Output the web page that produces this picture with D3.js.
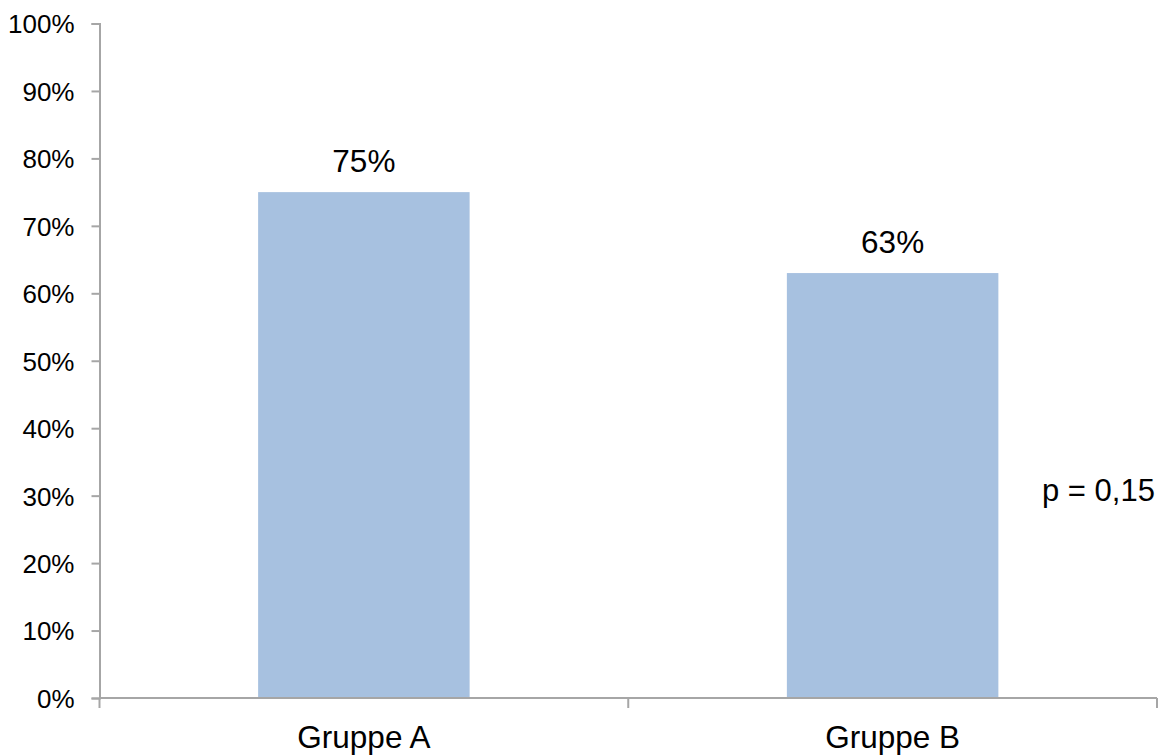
<!DOCTYPE html>
<html>
<head>
<meta charset="utf-8">
<script src="https://cdn.jsdelivr.net/npm/d3@7"></script>
<style>
  body { margin: 0; background: #fff; }
  svg text { font-family: "Liberation Sans", Arial, sans-serif; fill: #000; }
</style>
</head>
<body>
<svg id="chart" width="1168" height="755"></svg>
<script>
// Share of each group, in percent
const categories = ["Gruppe A", "Gruppe B"];
const values = [75, 63];
const yTicks = [0, 10, 20, 30, 40, 50, 60, 70, 80, 90, 100];
const note = "p = 0,15";

const svg = d3.select("#chart");
const plotLeft = 99.5, plotRight = 1157, plotTop = 23.5, plotBottom = 698;
const axisColor = "#a6a6a6";

const x = d3.scaleBand().domain(categories).range([plotLeft, plotRight])
  .paddingInner(0.6).paddingOuter(0.3);
const y = d3.scaleLinear().domain([0, 100]).range([plotBottom, plotTop]);

// bars
svg.selectAll("rect.bar").data(values).enter().append("rect")
  .attr("class", "bar")
  .attr("x", (d, i) => x(categories[i]))
  .attr("width", x.bandwidth())
  .attr("y", d => y(d))
  .attr("height", d => plotBottom - y(d))
  .attr("fill", "#a7c1e0");

// y axis
const yAxis = svg.append("g").attr("transform", `translate(${plotLeft},0)`)
  .call(d3.axisLeft(y).tickValues(yTicks).tickSize(8).tickPadding(17)
    .tickFormat(d => d + "%"));
yAxis.select(".domain").attr("stroke", axisColor).attr("stroke-width", 2);
yAxis.selectAll(".tick line").attr("stroke", axisColor).attr("stroke-width", 2);
yAxis.selectAll(".tick text").style("font-size", "26px").attr("dy", "0.36em");

// x axis with boundary ticks between categories
const xAxisG = svg.append("g");
xAxisG.append("line").attr("x1", plotLeft).attr("x2", plotRight)
  .attr("y1", plotBottom).attr("y2", plotBottom)
  .attr("stroke", axisColor).attr("stroke-width", 2);
const boundaries = [plotLeft, (x(categories[0]) + x.bandwidth() + x(categories[1])) / 2, plotRight];
xAxisG.selectAll("line.bt").data(boundaries).enter().append("line")
  .attr("class", "bt")
  .attr("x1", d => d).attr("x2", d => d)
  .attr("y1", plotBottom).attr("y2", plotBottom + 10)
  .attr("stroke", axisColor).attr("stroke-width", 2);
xAxisG.selectAll("text").data(categories).enter().append("text")
  .attr("x", d => x(d) + x.bandwidth() / 2)
  .attr("y", 748)
  .attr("text-anchor", "middle")
  .style("font-size", "31.5px")
  .text(d => d);

// value labels
svg.selectAll("text.val").data(values).enter().append("text")
  .attr("class", "val")
  .attr("x", (d, i) => x(categories[i]) + x.bandwidth() / 2)
  .attr("y", d => y(d) - 20)
  .attr("text-anchor", "middle")
  .style("font-size", "31.5px")
  .text(d => d + "%");

// significance note
svg.append("text")
  .attr("x", 1042).attr("y", 501)
  .style("font-size", "31px")
  .text(note);
</script>
</body>
</html>
